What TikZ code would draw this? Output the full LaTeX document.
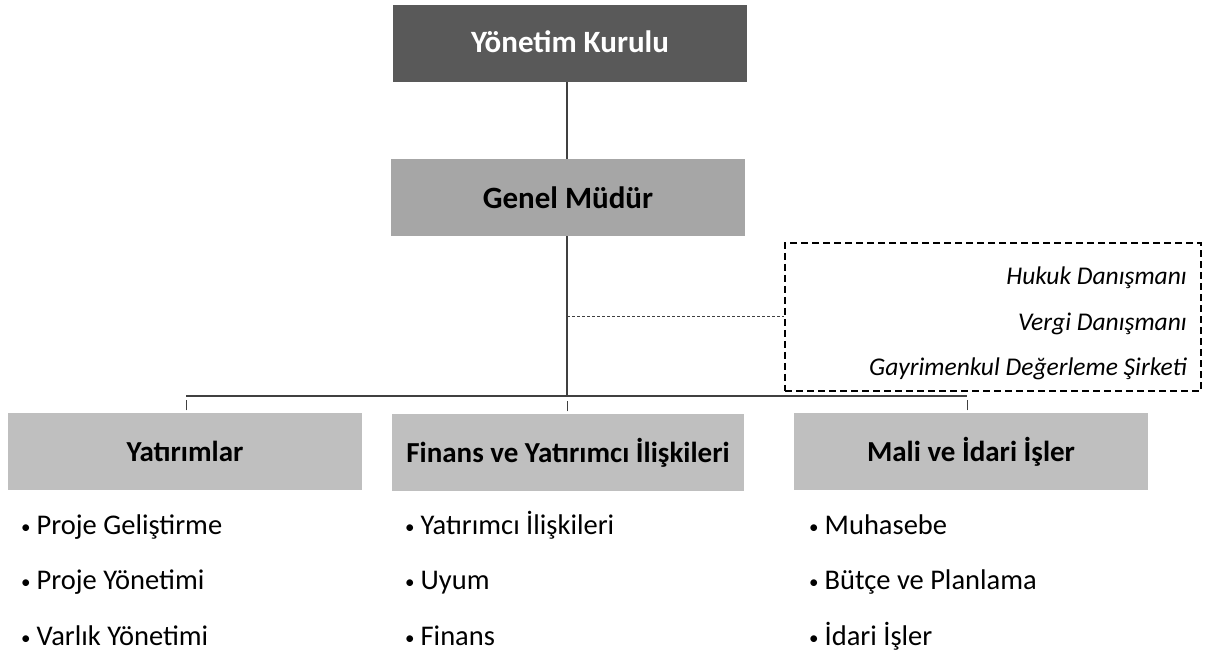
\documentclass[tikz,border=0pt]{standalone}
\usepackage{fontspec}
\setmainfont{Carlito}
\definecolor{darkbox}{HTML}{595959}
\definecolor{midbox}{HTML}{A6A6A6}
\definecolor{lightbox}{HTML}{BFBFBF}
\definecolor{linec}{HTML}{404040}
\newcommand{\bulmark}{\raisebox{1pt}{\fontsize{19}{19}\selectfont•}\hspace{6pt}}
\tikzset{
  topbox/.style={rectangle, fill=darkbox, draw=none, minimum width=354pt, minimum height=77pt, inner sep=0pt, text height=19pt, text depth=0pt, text=white, font=\fontsize{31}{34}\selectfont\bfseries},
  gmbox/.style={rectangle, fill=midbox, draw=none, minimum width=354pt, minimum height=77pt, inner sep=0pt, text height=23pt, text depth=0pt, text=black, font=\fontsize{31}{34}\selectfont\bfseries},
  depbox/.style={rectangle, fill=lightbox, draw=none, minimum width=354pt, minimum height=77pt, inner sep=0pt, text height=21pt, text depth=0pt, text=black, font=\fontsize{29}{32}\selectfont\bfseries},
  conn/.style={draw=linec, line width=2pt},
  tickl/.style={draw=linec, line width=1pt},
  advbox/.style={rectangle, draw=black, line width=1.3pt, dash pattern=on 7pt off 4pt, minimum width=416pt, minimum height=148pt, inner sep=0pt},
  advtxt/.style={anchor=base east, inner sep=0pt, font=\fontsize{25.5}{30}\selectfont\itshape},
  dashc/.style={draw=linec, line width=1pt, dash pattern=on 3pt off 2pt},
  bul/.style={anchor=base west, inner sep=0pt, font=\fontsize{28.5}{32}\selectfont}
}
\begin{document}
\begin{tikzpicture}[x=1pt,y=-1pt]
\useasboundingbox (0,0) rectangle (1208,652);
\node[topbox] (yk) at (570,43.5) {Yönetim Kurulu};
\node[gmbox] (gm) at (568,197.5) {Genel Müdür};
\node[depbox] (d1) at (185,451) {Yatırımlar};
\node[depbox, minimum width=352pt] (d2) at (568,452) {Finans ve Yatırımcı İlişkileri};
\node[depbox] (d3) at (971,451) {Mali ve İdari İşler};
\node[advbox] (adv) at (993,317) {};
\node[advtxt] (a1) at (1187,285) {Hukuk Danışmanı};
\node[advtxt] (a2) at (1187,331) {Vergi Danışmanı};
\node[advtxt] (a3) at (1187,376) {Gayrimenkul Değerleme Şirketi};
\coordinate (h1) at (186,396);
\coordinate (h2) at (567,396);
\coordinate (h3) at (967,396);
\coordinate (dj) at (567,317);
\draw[conn] (yk.south -| h2) -- (gm.north -| h2);
\draw[conn] (gm.south -| h2) -- (h2);
\draw[conn] (h1) -- (h3);
\draw[dashc] (dj) -- (adv.west);
\draw[tickl] ([yshift=2pt]d1.north -| h1) -- ++(0,-10);
\draw[tickl] ([yshift=2pt]d2.north -| h2) -- ++(0,-10);
\draw[tickl] ([yshift=2pt]d3.north -| h3) -- ++(0,-10);
\node[bul] (b11) at (21,534) {\bulmark Proje Geliştirme};
\node[bul] (b12) at (21,589) {\bulmark Proje Yönetimi};
\node[bul] (b13) at (21,645) {\bulmark Varlık Yönetimi};
\node[bul] (b21) at (405,534) {\bulmark Yatırımcı İlişkileri};
\node[bul] (b22) at (405,589) {\bulmark Uyum};
\node[bul] (b23) at (405,645) {\bulmark Finans};
\node[bul] (b31) at (809,534) {\bulmark Muhasebe};
\node[bul] (b32) at (809,589) {\bulmark Bütçe ve Planlama};
\node[bul] (b33) at (809,645) {\bulmark İdari İşler};
\end{tikzpicture}
\end{document}
